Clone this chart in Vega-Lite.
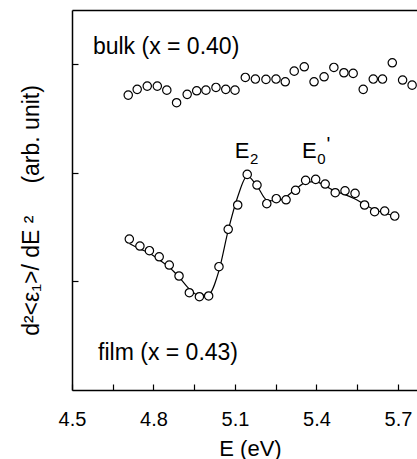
{
  "$schema": "https://vega.github.io/schema/vega-lite/v6.json",
  "width": 345,
  "height": 380,
  "autosize": "none",
  "padding": {"left": 72, "top": 10, "right": 0, "bottom": 69},
  "background": "white",
  "config": {"view": {"stroke": null}, "font": "Liberation Sans"},
  "datasets": {
    "fit": [
      {"E": 4.711, "v": 1.35}, {"E": 4.750, "v": 1.30}, {"E": 4.785, "v": 1.26}, {"E": 4.821, "v": 1.20},
      {"E": 4.858, "v": 1.13}, {"E": 4.894, "v": 1.04}, {"E": 4.932, "v": 0.93}, {"E": 4.969, "v": 0.87},
      {"E": 5.003, "v": 0.88}, {"E": 5.041, "v": 1.10}, {"E": 5.075, "v": 1.47}, {"E": 5.110, "v": 1.78},
      {"E": 5.145, "v": 1.97}, {"E": 5.181, "v": 1.88}, {"E": 5.217, "v": 1.75}, {"E": 5.252, "v": 1.74},
      {"E": 5.288, "v": 1.78}, {"E": 5.323, "v": 1.85}, {"E": 5.360, "v": 1.91}, {"E": 5.397, "v": 1.92},
      {"E": 5.432, "v": 1.88}, {"E": 5.469, "v": 1.83}, {"E": 5.505, "v": 1.80}, {"E": 5.542, "v": 1.76},
      {"E": 5.577, "v": 1.71}, {"E": 5.614, "v": 1.66}, {"E": 5.651, "v": 1.63}, {"E": 5.688, "v": 1.60}
    ],
    "film": [
      {"E": 4.711, "v": 1.390}, {"E": 4.750, "v": 1.326}, {"E": 4.785, "v": 1.283}, {"E": 4.821, "v": 1.227},
      {"E": 4.858, "v": 1.151}, {"E": 4.894, "v": 1.050}, {"E": 4.932, "v": 0.896}, {"E": 4.969, "v": 0.859},
      {"E": 5.003, "v": 0.866}, {"E": 5.041, "v": 1.136}, {"E": 5.075, "v": 1.480}, {"E": 5.110, "v": 1.704},
      {"E": 5.145, "v": 1.986}, {"E": 5.181, "v": 1.888}, {"E": 5.217, "v": 1.716}, {"E": 5.252, "v": 1.762},
      {"E": 5.288, "v": 1.752}, {"E": 5.323, "v": 1.839}, {"E": 5.360, "v": 1.931}, {"E": 5.397, "v": 1.940},
      {"E": 5.432, "v": 1.897}, {"E": 5.469, "v": 1.817}, {"E": 5.505, "v": 1.835}, {"E": 5.542, "v": 1.811},
      {"E": 5.577, "v": 1.704}, {"E": 5.614, "v": 1.642}, {"E": 5.651, "v": 1.648}, {"E": 5.688, "v": 1.602}
    ],
    "bulk": [
      {"E": 4.707, "v": 2.716}, {"E": 4.740, "v": 2.769}, {"E": 4.777, "v": 2.799}, {"E": 4.814, "v": 2.799},
      {"E": 4.849, "v": 2.762}, {"E": 4.885, "v": 2.646}, {"E": 4.924, "v": 2.723}, {"E": 4.959, "v": 2.756},
      {"E": 4.993, "v": 2.762}, {"E": 5.030, "v": 2.787}, {"E": 5.066, "v": 2.769}, {"E": 5.100, "v": 2.762},
      {"E": 5.138, "v": 2.879}, {"E": 5.175, "v": 2.864}, {"E": 5.214, "v": 2.861}, {"E": 5.251, "v": 2.864},
      {"E": 5.285, "v": 2.839}, {"E": 5.318, "v": 2.937}, {"E": 5.355, "v": 2.977}, {"E": 5.391, "v": 2.839},
      {"E": 5.428, "v": 2.885}, {"E": 5.464, "v": 2.971}, {"E": 5.501, "v": 2.922}, {"E": 5.535, "v": 2.916},
      {"E": 5.572, "v": 2.769}, {"E": 5.609, "v": 2.864}, {"E": 5.643, "v": 2.864}, {"E": 5.679, "v": 3.014},
      {"E": 5.717, "v": 2.855}, {"E": 5.752, "v": 2.808}
    ],
    "notes": [
      {"label": "bulk (x = 0.40)", "E": 4.577, "v": 3.158},
      {"label": "film (x = 0.43)", "E": 4.596, "v": 0.341}
    ],
    "peaks": [
      {"label": "E", "sub": "2", "E": 5.126, "v": 2.20},
      {"label": "E", "sub": "0", "E": 5.374, "v": 2.20}
    ],
    "primes": [
      {"label": "'", "E": 5.374, "v": 2.20}
    ]
  },
  "resolve": {"axis": {"x": "independent", "y": "independent"}},
  "layer": [
    {
      "data": {"name": "fit"},
      "mark": {"type": "line", "interpolate": "monotone", "color": "black", "strokeWidth": 1.2},
      "encoding": {
        "x": {
          "field": "E", "type": "quantitative",
          "scale": {"domain": [4.5, 5.77], "nice": false, "zero": false},
          "axis": {
            "orient": "bottom",
            "values": [4.5, 4.65, 4.8, 4.95, 5.1, 5.25, 5.4, 5.55, 5.7],
            "labelExpr": "abs(round(datum.value * 10) % 3) == 0 ? format(datum.value, '.1f') : ''",
            "tickSize": -6, "tickColor": "black", "tickWidth": 1.2,
            "domainColor": "black", "domainWidth": 1.5,
            "labelFontSize": 20, "labelColor": "black", "labelPadding": 25,
            "labelFlush": false, "labelOverlap": false, "grid": false,
            "title": "E (eV)", "titleFontSize": 22, "titleFontWeight": "normal", "titleColor": "black",
            "titleX": 178, "titleY": 58, "titleBaseline": "middle", "titleAlign": "center"
          }
        },
        "y": {
          "field": "v", "type": "quantitative",
          "scale": {"domain": [0, 3.5], "nice": false, "zero": false},
          "axis": {
            "orient": "left",
            "values": [1, 2, 3],
            "labels": false,
            "tickSize": -6, "tickColor": "black", "tickWidth": 1.2,
            "domainColor": "black", "domainWidth": 1.5, "grid": false,
            "title": "d²<ε₁>/ dE ²\u00a0\u00a0\u00a0\u00a0\u00a0(arb. unit)", "titleFontSize": 23, "titleFontWeight": "normal", "titleColor": "black",
            "titleX": -41, "titleY": 200, "titleBaseline": "middle", "titleAlign": "center", "titleAngle": -90
          }
        }
      }
    },
    {
      "data": {"name": "film"},
      "mark": {"type": "point", "shape": "circle", "filled": true, "fill": "white", "stroke": "black", "strokeWidth": 1.2, "size": 70, "opacity": 1},
      "encoding": {
        "x": {"field": "E", "type": "quantitative", "axis": {"orient": "top", "ticks": false, "labels": false, "domain": true, "domainColor": "black", "domainWidth": 1.5, "grid": false, "title": null}},
        "y": {"field": "v", "type": "quantitative", "axis": null}
      }
    },
    {
      "data": {"name": "bulk"},
      "mark": {"type": "point", "shape": "circle", "filled": true, "fill": "white", "stroke": "black", "strokeWidth": 1.2, "size": 70, "opacity": 1},
      "encoding": {
        "x": {"field": "E", "type": "quantitative", "axis": null},
        "y": {"field": "v", "type": "quantitative", "axis": null}
      }
    },
    {
      "data": {"name": "notes"},
      "mark": {"type": "text", "align": "left", "baseline": "middle", "fontSize": 23, "color": "black"},
      "encoding": {
        "x": {"field": "E", "type": "quantitative", "axis": null},
        "y": {"field": "v", "type": "quantitative", "axis": null},
        "text": {"field": "label"}
      }
    },
    {
      "data": {"name": "peaks"},
      "mark": {"type": "text", "align": "center", "baseline": "middle", "fontSize": 22, "color": "black"},
      "encoding": {
        "x": {"field": "E", "type": "quantitative", "axis": null},
        "y": {"field": "v", "type": "quantitative", "axis": null},
        "text": {"field": "label"}
      }
    },
    {
      "data": {"name": "peaks"},
      "mark": {"type": "text", "align": "center", "baseline": "middle", "fontSize": 15, "color": "black", "dx": 12, "dy": 8},
      "encoding": {
        "x": {"field": "E", "type": "quantitative", "axis": null},
        "y": {"field": "v", "type": "quantitative", "axis": null},
        "text": {"field": "sub"}
      }
    },
    {
      "data": {"name": "primes"},
      "mark": {"type": "text", "align": "center", "baseline": "middle", "fontSize": 20, "color": "black", "dx": 19, "dy": -6},
      "encoding": {
        "x": {"field": "E", "type": "quantitative", "axis": null},
        "y": {"field": "v", "type": "quantitative", "axis": null},
        "text": {"field": "label"}
      }
    }
  ]
}
